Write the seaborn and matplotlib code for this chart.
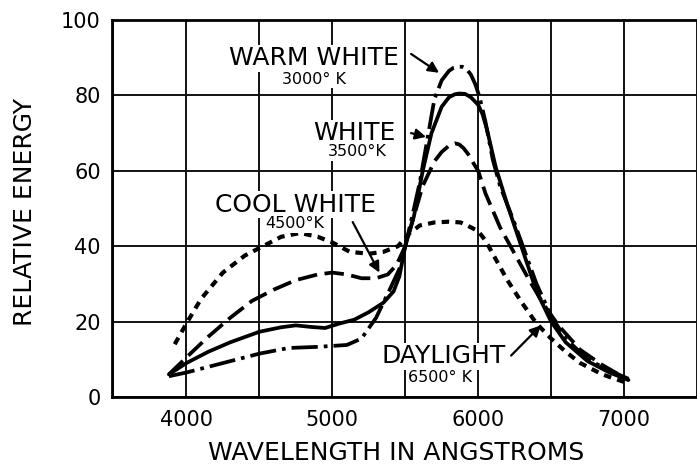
import matplotlib
matplotlib.use("Agg")
import matplotlib.pyplot as plt
import seaborn as sns
import pandas as pd

# spectral energy curves (wavelength in angstroms)
warm_x = [3880, 4000, 4150, 4300, 4500, 4700, 4900, 5100, 5200, 5300, 5400, 5460,
          5500, 5560, 5600, 5650, 5700, 5750, 5800, 5830, 5860, 5890, 5920, 5950,
          5980, 6010, 6050, 6100, 6150, 6250, 6400, 6500, 6600, 6750, 6900, 7050]
warm_y = [5.5, 6.5, 8, 9.5, 11.5, 13, 13.3, 13.8, 15.5, 21, 29, 34,
          40, 50, 57, 68, 79, 84, 86.5, 87.3, 87.6, 87.6, 87, 85.5,
          83, 79.5, 73, 63, 56, 46, 30, 21.5, 15.5, 10, 7, 4.5]

white_x = [3880, 4000, 4150, 4300, 4500, 4650, 4750, 4850, 4950, 5050, 5150, 5250,
           5350, 5420, 5460, 5500, 5560, 5620, 5680, 5750, 5800, 5840, 5870, 5910,
           5950, 6000, 6030, 6060, 6120, 6200, 6300, 6400, 6500, 6600, 6750, 6900, 7030]
white_y = [6, 9, 12, 14.5, 17.3, 18.5, 19, 18.6, 18.3, 19.5, 20.5, 22.5,
           25, 28, 32, 40, 48, 60, 70, 77, 79.5, 80.3, 80.5, 80.4,
           79.5, 77.5, 75, 71, 61, 51, 39.5, 28, 20, 14.5, 9.5, 6.5, 4.5]

cool_x = [3880, 4000, 4150, 4300, 4450, 4600, 4750, 4900, 5000, 5100, 5200, 5300,
          5380, 5440, 5500, 5560, 5620, 5700, 5750, 5780, 5810, 5840, 5870, 5900,
          5930, 5960, 6000, 6050, 6150, 6250, 6350, 6450, 6550, 6700, 6850, 7030]
cool_y = [6, 10.5, 16, 21, 25.5, 28.5, 31, 32.5, 33, 32.5, 31.5, 31.5,
          32.5, 35, 40, 48, 56, 62.5, 65, 66, 67, 67.3, 67, 66,
          64.5, 62.5, 60, 54, 45, 38, 31, 24.5, 19, 12.5, 8.5, 4.5]

day_x = [3920, 4000, 4100, 4250, 4400, 4500, 4650, 4780, 4900, 5000, 5120, 5250,
         5350, 5450, 5530, 5600, 5700, 5800, 5880, 5950, 6000, 6050, 6100, 6200,
         6300, 6400, 6500, 6600, 6700, 6850, 7000]
day_y = [14, 19.5, 26, 33, 37.5, 39.5, 42.5, 43.5, 42.5, 41, 38.5, 38,
         38.5, 40, 43.5, 45.5, 46.3, 46.5, 46.3, 45, 44, 41.5, 38, 31,
         25, 19.5, 15.5, 12, 9, 6, 4]

x_ticks = [4000, 5000, 6000, 7000]
y_ticks = [0, 20, 40, 60, 80, 100]

sns.set_style("white")
plt.rcParams['font.family'] = ['DejaVu Sans']
plt.rcParams['text.color'] = 'black'
plt.rcParams['axes.labelcolor'] = 'black'
plt.rcParams['xtick.color'] = 'black'
plt.rcParams['ytick.color'] = 'black'

fig = plt.figure(figsize=(6.97, 4.70), dpi=100)
ax = fig.add_axes([112 / 697, 1 - 397 / 470, 585 / 697, 377 / 470])

curves = [
    (warm_x, warm_y, (0, (7, 1.6, 1.0, 1.6)), 2.7),
    (white_x, white_y, '-', 2.7),
    (cool_x, cool_y, (0, (5.2, 2.0)), 2.7),
    (day_x, day_y, (0, (1.8, 1.5)), 3.0),
]
for xs, ys, ls, lw in curves:
    df = pd.DataFrame({'wl': xs, 'energy': ys})
    sns.lineplot(data=df, x='wl', y='energy', ax=ax, color='black',
                 linestyle=ls, lw=lw, errorbar=None)

ax.set_xlim(3490, 7490)
ax.set_ylim(0, 100)
ax.set_xticks(x_ticks)
ax.set_xticks(range(3500, 7501, 500), minor=True)
ax.set_yticks(y_ticks)
ax.set_axisbelow(True)
ax.grid(True, which='both', axis='x', color='#111111', lw=1.4)
ax.grid(True, which='major', axis='y', color='#111111', lw=1.4)
ax.tick_params(which='both', length=0, labelsize=15)
ax.tick_params(axis='y', pad=8)
ax.tick_params(axis='x', pad=9)
ax.spines['right'].set_visible(False)
for s in ['left', 'bottom', 'top']:
    ax.spines[s].set_linewidth(2)
    ax.spines[s].set_color('black')

ax.set_xlabel('WAVELENGTH IN ANGSTROMS', fontsize=18)
ax.set_ylabel('RELATIVE ENERGY', fontsize=18)
ax.xaxis.set_label_coords(0.485, -0.118)
ax.yaxis.set_label_coords(-0.128, 0.49)

box = dict(facecolor='white', edgecolor='none', pad=1)
arrow = dict(arrowstyle='-|>', color='black', lw=1.6, mutation_scale=16,
             shrinkA=0, shrinkB=0)

ax.text(4873, 89.9, 'WARM WHITE', fontsize=18, ha='center', va='center', bbox=box)
ax.text(4873, 84.3, '3000° K', fontsize=11.5, ha='center', va='center', bbox=box)
ax.annotate('', xy=(5732, 86), xytext=(5540, 91), arrowprops=arrow)

ax.text(5150, 70, 'WHITE', fontsize=18, ha='center', va='center', bbox=box)
ax.text(5170, 65, '3500°K', fontsize=11.5, ha='center', va='center', bbox=box)
ax.annotate('', xy=(5643, 69), xytext=(5540, 70), arrowprops=arrow)

ax.text(4745, 51, 'COOL WHITE', fontsize=18, ha='center', va='center', bbox=box)
ax.text(4740, 46, '4500°K', fontsize=11.5, ha='center', va='center', bbox=box)
ax.annotate('', xy=(5323, 33), xytext=(5140, 46.4), arrowprops=arrow)

ax.text(5766, 10.8, 'DAYLIGHT', fontsize=18, ha='center', va='center', bbox=box)
ax.text(5740, 5.3, '6500° K', fontsize=11.5, ha='center', va='center', bbox=box)
ax.annotate('', xy=(6430, 19), xytext=(6226, 11), arrowprops=arrow)

fig.savefig('out.png', dpi=100)
